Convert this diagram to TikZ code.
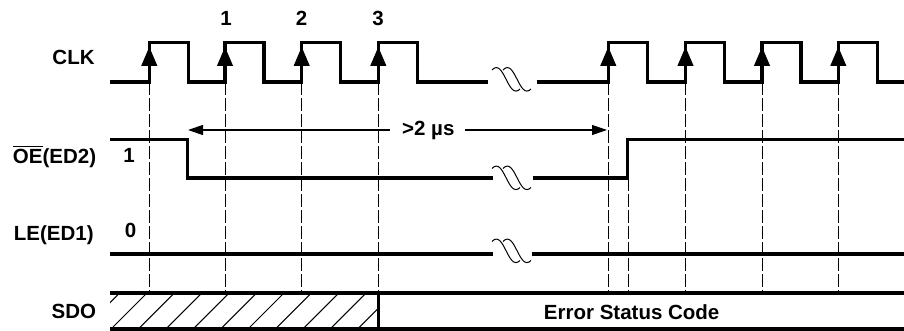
\documentclass[tikz,border=0pt]{standalone}
\usepackage{fontspec}
\setmainfont{Liberation Sans}
\usetikzlibrary{arrows.meta}

\begin{document}
\begin{tikzpicture}[
        x=0.5pt, y=-0.5pt,
        every node/.style={
            font=\fontsize{10.25}{12}\selectfont\bfseries,
            inner sep=0pt
        },
        wave/.style={
            line width=1.6pt,
            line join=miter
        },
        guide/.style={
            line width=0.5pt,
            dash pattern=on 6.5pt off 1.5pt
        },
        clkedge/.style={
            -{Triangle[length=9.5pt,width=8pt]},
            line width=0.5pt
        },
        gaparrow/.style={
            -{Triangle[length=7.5pt,width=5pt]},
            line width=0.6pt
        },
        hatch/.style={
            line width=0.5pt
        },
        brk/.style={
            line width=0.5pt
        },
        signame/.style={anchor=base east},
        lvl/.style={anchor=base}
    ]
        \useasboundingbox (0,0) rectangle (904,331);

        % Signal names
        \node[signame] (clk) at (95,64.5) {CLK};
        \node[signame] (oe) at (96.5,164) {$\overline{\mbox{OE}}$(ED2)};
        \node[signame] (le) at (94,241) {LE(ED1)};
        \node[signame] (sdo) at (96.5,318.5) {SDO};

        % Clock numbers and levels
        \node[lvl] (n1) at (226,26) {1};
        \node[lvl] (n2) at (301.5,26) {2};
        \node[lvl] (n3) at (378,26) {3};
        \node[lvl] (oeval) at (129,162.5) {1};
        \node[lvl] (leval) at (130.5,237.5) {0};

        % Guide lines
        \foreach \x in {149.3,225,301.7,378.3,608.3,685.5,762,838.3}
            \draw[guide] (\x,82) -- (\x,293);
        \draw[guide] (628,178) -- (628,293);

        % CLK
        \draw[wave] (110,82) foreach \x in {149.3,225,301.7,378.3} {
            -- (\x,82) -- (\x,42.3) -- (\x+39,42.3) -- (\x+39,82) } -- (488,82);
        \draw[wave] (536.7,82) foreach \x in {608.3,685.5,762,838.3} {
            -- (\x,82) -- (\x,42.3) -- (\x+39,42.3) -- (\x+39,82) } -- (904,82);
        \foreach \x in {149.3,225,301.7,378.3,608.3,685.5,762,838.3}
            \draw[clkedge] (\x,68) -- (\x,47);

        % OE(ED2)
        \draw[wave] (110,139.3) -- (187.7,139.3) -- (187.7,178) -- (492.5,178);
        \draw[wave] (532.5,178) -- (627.7,178) -- (627.7,139.3) -- (904,139.3);

        % LE(ED1)
        \draw[wave] (110,254) -- (492.5,254);
        \draw[wave] (532,254) -- (904,254);

        % Breaks
        \foreach \cy in {79,177.5,250.5}
            \foreach \dx in {0,11}
                \draw[brk] (492+\dx,\cy-9) .. controls (504+\dx,\cy-22) and (508+\dx,\cy+22) .. (520+\dx,\cy+10);

        % >2 us
        \node (tsep) at (428.3,130) {>2 µs};
        \coordinate (oefall) at (188,130);
        \coordinate (clkrise) at (607,130);
        \draw[gaparrow] ([xshift=-5.8pt]tsep.west) -- (oefall);
        \draw[gaparrow] ([xshift=5pt]tsep.east) -- (clkrise);

        % SDO
        \begin{scope}
            \clip (110,293) rectangle (378.3,329);
            \foreach \k in {-2,...,9}
                \draw[hatch] (111+27.4*\k,329) -- ++(37,-37);
        \end{scope}
        \draw[wave] (110,293) -- (904,293);
        \draw[wave] (110,329) -- (904,329);
        \draw[wave] (378.3,293) -- (378.3,329);
        \node[lvl] (esc) at (631.7,319) {Error Status Code};
    \end{tikzpicture}
\end{document}
